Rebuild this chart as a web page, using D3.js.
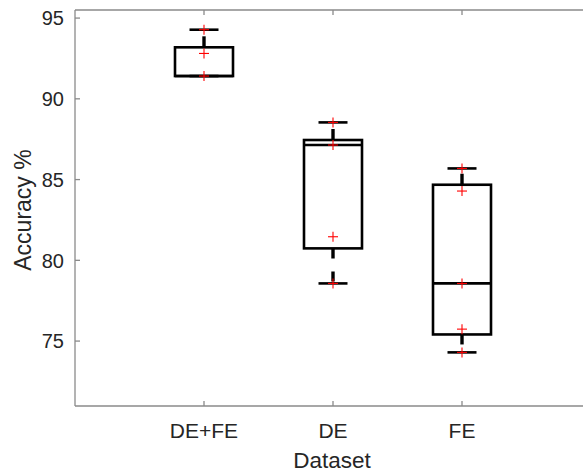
<!DOCTYPE html>
<html><head><meta charset="utf-8">
<script src="https://cdn.jsdelivr.net/npm/d3@7"></script>
<style>body{margin:0;background:#fff}svg{display:block}text{font-family:"Liberation Sans",Arial,sans-serif;fill:#262626}</style>
</head><body><svg id="c" width="583" height="474"></svg>
<script>
const categories = ["DE+FE","DE","FE"];
const q1 = [91.41, 80.74, 75.41];
const median = [91.41, 87.14, 78.57];
const q3 = [93.19, 87.45, 84.68];
const whiskLow = [91.41, 78.57, 74.30];
const whiskHigh = [94.28, 88.54, 85.69];
const points = [[94.28, 92.81, 91.41],[88.54, 87.14, 81.46, 78.57],[85.69, 84.29, 78.57, 75.74, 74.30]];
const yTicks = [75, 80, 85, 90, 95];
const xLabel = "Dataset", yLabel = "Accuracy %";

const svg = d3.select("#c");
const L = 75, R = 591, T = 10, B = 406;
const x = d3.scaleLinear().domain([0, 4]).range([L, R]);
const y = d3.scaleLinear().domain([70.98, 95.5]).range([B, T]);
const boxHalf = 29, capHalf = 14.5;
const axisCol = "#8a8a8a";

svg.append("line").attr("x1", L).attr("x2", 583).attr("y1", B).attr("y2", B).attr("stroke", axisCol).attr("stroke-width", 1.3);
svg.append("line").attr("x1", L).attr("x2", 583).attr("y1", T).attr("y2", T).attr("stroke", axisCol).attr("stroke-width", 1.3);
svg.append("line").attr("x1", L).attr("x2", L).attr("y1", T).attr("y2", B).attr("stroke", axisCol).attr("stroke-width", 1.3);

const yt = svg.append("g");
yTicks.forEach(v => {
  yt.append("line").attr("x1", L).attr("x2", L + 5).attr("y1", y(v)).attr("y2", y(v)).attr("stroke", axisCol).attr("stroke-width", 1.3);
  yt.append("text").attr("x", L - 11).attr("y", y(v)).attr("dy", "0.36em").attr("text-anchor", "end").attr("font-size", 20).text(v);
});
categories.forEach((c, i) => {
  const xc = x(i + 1);
  svg.append("line").attr("x1", xc).attr("x2", xc).attr("y1", B).attr("y2", B - 5).attr("stroke", axisCol).attr("stroke-width", 1.3);
  svg.append("line").attr("x1", xc).attr("x2", xc).attr("y1", T).attr("y2", T + 5).attr("stroke", axisCol).attr("stroke-width", 1.3);
  svg.append("text").attr("x", xc).attr("y", 438).attr("text-anchor", "middle").attr("font-size", 21).text(c);
});
svg.append("text").attr("x", 332).attr("y", 468).attr("text-anchor", "middle").attr("font-size", 22.5).text(xLabel);
svg.append("text").attr("transform", "translate(31," + ((T + B) / 2 + 2) + ") rotate(-90)").attr("text-anchor", "middle").attr("font-size", 23).text(yLabel);

const g = svg.append("g").attr("stroke", "#000").attr("stroke-width", 2.6).attr("fill", "none");
categories.forEach((c, i) => {
  const xc = x(i + 1);
  if (whiskHigh[i] > q3[i]) {
    g.append("line").attr("x1", xc).attr("x2", xc).attr("y1", y(q3[i])).attr("y2", y(whiskHigh[i])).attr("stroke-dasharray", "11,13").attr("stroke-width", 3.4);
    g.append("line").attr("x1", xc - capHalf).attr("x2", xc + capHalf).attr("y1", y(whiskHigh[i])).attr("y2", y(whiskHigh[i]));
  }
  if (whiskLow[i] < q1[i]) {
    g.append("line").attr("x1", xc).attr("x2", xc).attr("y1", y(q1[i])).attr("y2", y(whiskLow[i])).attr("stroke-dasharray", "10,13").attr("stroke-width", 3.4);
    g.append("line").attr("x1", xc - capHalf).attr("x2", xc + capHalf).attr("y1", y(whiskLow[i])).attr("y2", y(whiskLow[i]));
  } else {
    g.append("line").attr("x1", xc - capHalf).attr("x2", xc + capHalf).attr("y1", y(whiskLow[i])).attr("y2", y(whiskLow[i]));
  }
  g.append("rect").attr("x", xc - boxHalf).attr("width", 2 * boxHalf).attr("y", y(q3[i])).attr("height", y(q1[i]) - y(q3[i]));
  g.append("line").attr("x1", xc - boxHalf).attr("x2", xc + boxHalf).attr("y1", y(median[i])).attr("y2", y(median[i]));
});
const p = svg.append("g").attr("stroke", "#ff0000").attr("stroke-width", 1.1);
points.forEach((arr, i) => {
  const xc = x(i + 1);
  arr.forEach(v => {
    p.append("line").attr("x1", xc - 5).attr("x2", xc + 5).attr("y1", y(v)).attr("y2", y(v));
    p.append("line").attr("x1", xc).attr("x2", xc).attr("y1", y(v) - 5).attr("y2", y(v) + 5);
  });
});
</script></body></html>
